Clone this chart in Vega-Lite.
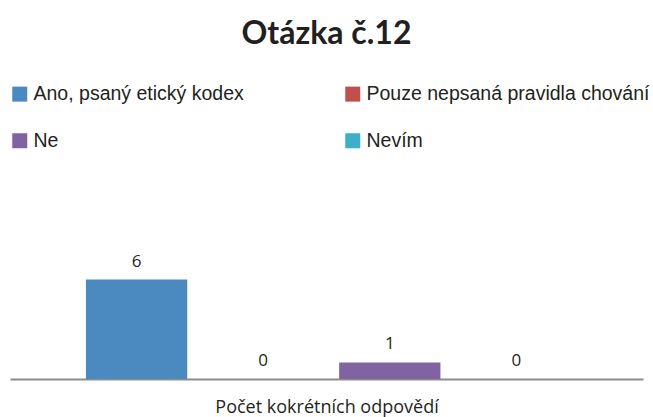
{
  "$schema": "https://vega.github.io/schema/vega-lite/v6.json",
  "width": 633,
  "height": 116,
  "autosize": {"type": "none"},
  "padding": {"left": 10, "top": 263, "right": 10, "bottom": 38},
  "background": "white",
  "config": {"view": {"stroke": null}},
  "title": {
    "text": "Otázka č.12",
    "font": "Lato",
    "fontSize": 32,
    "fontWeight": "bold",
    "color": "#231F20",
    "anchor": "middle",
    "frame": "group",
    "offset": 33
  },
  "data": {
    "values": [
      {"odpoved": "Ano, psaný etický kodex", "pocet": 6},
      {"odpoved": "Pouze nepsaná pravidla chování", "pocet": 0},
      {"odpoved": "Ne", "pocet": 1},
      {"odpoved": "Nevím", "pocet": 0}
    ]
  },
  "encoding": {
    "x": {
      "field": "odpoved",
      "type": "nominal",
      "sort": null,
      "scale": {"paddingInner": 0.2, "paddingOuter": 0.6},
      "axis": {
        "title": "Počet kokrétních odpovědí",
        "labels": false,
        "ticks": false,
        "domainColor": "#8C8C8C",
        "domainWidth": 2,
        "titleFont": "Open Sans",
        "titleFontSize": 18,
        "titleFontWeight": "normal",
        "titleColor": "#231F20",
        "titlePadding": 19
      }
    },
    "y": {
      "field": "pocet",
      "type": "quantitative",
      "scale": {"domain": [0, 7]},
      "axis": null
    }
  },
  "layer": [
    {
      "mark": {"type": "bar"},
      "encoding": {
        "color": {
          "field": "odpoved",
          "type": "nominal",
          "sort": null,
          "scale": {
            "domain": ["Ano, psaný etický kodex", "Pouze nepsaná pravidla chování", "Ne", "Nevím"],
            "range": ["#4A8AC1", "#C0504D", "#8064A2", "#3DAFC8"]
          },
          "legend": {
            "orient": "none",
            "direction": "horizontal",
            "legendX": 0,
            "legendY": -179,
            "columns": 2,
            "columnPadding": 99,
            "rowPadding": 26,
            "title": null,
            "symbolType": "square",
            "symbolSize": 225,
            "symbolStrokeWidth": 0,
            "labelFont": "Liberation Sans",
            "labelFontSize": 19.5,
            "labelColor": "#231F20",
            "labelOffset": 4,
            "labelLimit": 400
          }
        }
      }
    },
    {
      "mark": {
        "type": "text",
        "baseline": "bottom",
        "dy": -9,
        "font": "Open Sans",
        "fontSize": 17,
        "color": "#231F20"
      },
      "encoding": {
        "text": {"field": "pocet", "type": "quantitative"}
      }
    }
  ]
}
